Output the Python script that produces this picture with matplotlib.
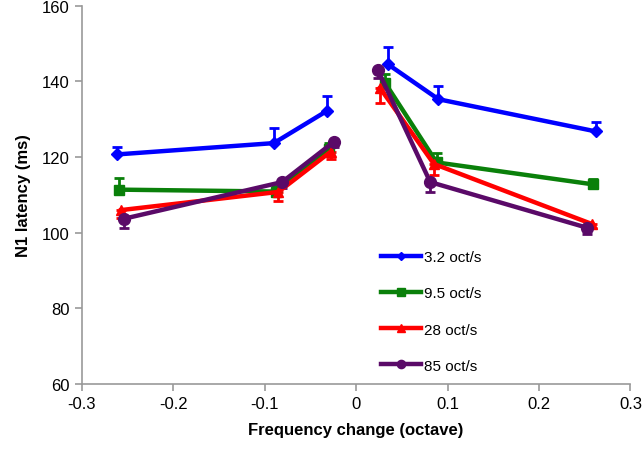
import matplotlib
import matplotlib.pyplot as plt
import numpy as np

matplotlib.use("Agg")
plt.rcParams["font.family"] = ["Liberation Sans", "DejaVu Sans"]

# frequency change (octave) for each rate, split into negative / positive halves
x_blue = [-0.262, -0.090, -0.032, 0.035, 0.090, 0.262]
x_green = [-0.259, -0.088, -0.030, 0.032, 0.088, 0.259]
x_red = [-0.257, -0.085, -0.028, 0.026, 0.085, 0.258]
x_purple = [-0.254, -0.081, -0.024, 0.024, 0.081, 0.253]

y_blue = [120.7, 123.7, 132.2, 144.5, 135.3, 126.8]
y_green = [111.4, 110.9, 122.2, 139.5, 118.6, 112.8]
y_red = [106.0, 110.8, 121.4, 138.3, 118.2, 102.3]
y_purple = [103.7, 113.4, 124.1, 142.9, 113.4, 101.3]

err_blue = [2.0, 4.0, 4.0, 4.5, 3.5, 2.5]
err_green = [3.0, 1.5, 1.5, 2.5, 2.5, 1.5]
err_red = [2.0, 2.5, 2.0, 4.0, 3.0, 1.0]
err_purple = [2.5, 1.5, 1.5, 2.0, 2.5, 1.5]

labels = ["3.2 oct/s", "9.5 oct/s", "28 oct/s", "85 oct/s"]

series = [
    (x_blue, y_blue, err_blue, "#0000ff", "D", 6.5, "up"),
    (x_green, y_green, err_green, "#0a800a", "s", 7.5, "up"),
    (x_red, y_red, err_red, "#ff0000", "^", 7.5, "down"),
    (x_purple, y_purple, err_purple, "#5a0a68", "o", 8.5, "down"),
]

fig = plt.figure(figsize=(6.44, 4.52), dpi=100)
ax = fig.add_axes([0.127, 0.148, 0.852, 0.837])

for (xs, ys, es, color, marker, ms, side), label in zip(series, labels):
    xs = np.array(xs)
    ys = np.array(ys)
    es = np.array(es)
    if side == "up":
        yerr = [np.zeros_like(es), es]
    else:
        yerr = [es, np.zeros_like(es)]
    ax.errorbar(xs, ys, yerr=yerr, fmt="none", ecolor=color, elinewidth=2,
                capsize=3.5, capthick=2, zorder=2)
    for half, lab in ((slice(0, 3), label), (slice(3, 6), None)):
        ax.plot(xs[half], ys[half], color=color, lw=3.2, marker=marker,
                markersize=ms, label=lab, zorder=3)

ax.set_xlim(-0.3, 0.3)
ax.set_ylim(60, 160)
ax.set_xticks(np.arange(-0.3, 0.31, 0.1))
ax.set_xticklabels(["-0.3", "-0.2", "-0.1", "0", "0.1", "0.2", "0.3"])
ax.set_yticks(range(60, 161, 20))

for side in ("top", "right"):
    ax.spines[side].set_visible(False)
for side in ("left", "bottom"):
    ax.spines[side].set_color("#999999")
    ax.spines[side].set_linewidth(1.2)
ax.tick_params(colors="#999999", labelcolor="black", labelsize=12,
               length=5, width=1.2, direction="out")

ax.set_xlabel("Frequency change (octave)", fontsize=12, fontweight="bold", labelpad=8)
ax.set_ylabel("N1 latency (ms)", fontsize=12, fontweight="bold", labelpad=8)

leg = ax.legend(loc="upper left", bbox_to_anchor=(0.52, 0.39), frameon=False,
                fontsize=11, labelspacing=1.45, handlelength=2.6,
                handletextpad=0.25, markerscale=0.7)

fig.savefig("out.png", dpi=100)
